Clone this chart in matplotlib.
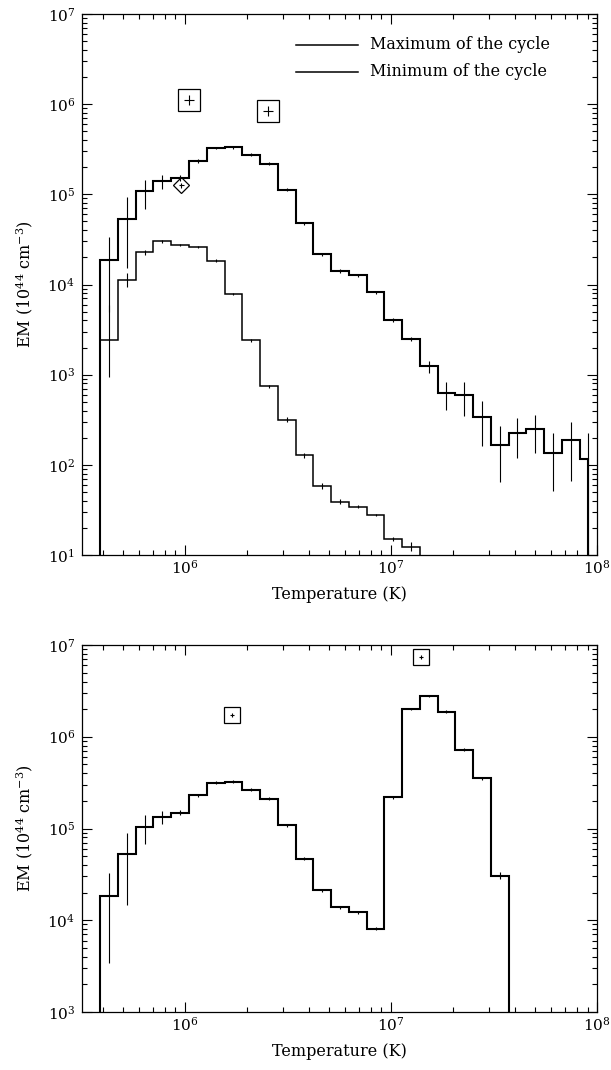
import numpy as np
import matplotlib
matplotlib.use("Agg")
import matplotlib.pyplot as plt
from matplotlib.ticker import LogLocator, NullFormatter, LogFormatterSciNotation

plt.rcParams["font.family"] = "DejaVu Serif"
plt.rcParams["mathtext.fontset"] = "dejavuserif"
plt.rcParams["mathtext.default"] = "regular"

# ---------------------------------------------------------------------------
# Temperature grid: log10(T / K) bin edges (last one closes the hottest bin)
logT_edges = [5.591, 5.677, 5.763, 5.849, 5.935, 6.022, 6.108, 6.194, 6.280,
              6.366, 6.452, 6.538, 6.624, 6.710, 6.796, 6.883, 6.969, 7.055,
              7.141, 7.227, 7.313, 7.399, 7.485, 7.571, 7.657, 7.744, 7.830,
              7.916, 7.957]

# Emission measure, maximum of the cycle (10^44 cm^-3) and its error range
em_max = [1.86e4, 5.3e4, 1.08e5, 1.39e5, 1.52e5, 2.32e5, 3.26e5, 3.31e5,
          2.75e5, 2.18e5, 1.13e5, 4.78e4, 2.17e4, 1.41e4, 1.26e4, 8.2e3,
          4.05e3, 2.5e3, 1.25e3, 627, 590, 340, 167, 223, 247, 135, 187, 117]
em_max_lo = [5.0e3, 1.53e4, 6.9e4, 1.15e5, 1.42e5, 2.2e5, 3.15e5, 3.2e5,
             2.65e5, 2.1e5, 1.09e5, 4.6e4, 2.08e4, 1.35e4, 1.21e4, 7.85e3,
             3.85e3, 2.35e3, 1.05e3, 410, 347, 161, 65, 120, 136, 51, 67, 1]
em_max_hi = [3.4e4, 9.3e4, 1.45e5, 1.65e5, 1.62e5, 2.45e5, 3.38e5, 3.43e5,
             2.86e5, 2.27e5, 1.17e5, 4.97e4, 2.26e4, 1.47e4, 1.31e4, 8.55e3,
             4.25e3, 2.65e3, 1.43e3, 822, 822, 507, 268, 332, 355, 223, 300, 227]

# Emission measure, minimum of the cycle
em_min = [2.44e3, 1.13e4, 2.28e4, 3.02e4, 2.72e4, 2.59e4, 1.84e4, 7.85e3,
          2.40e3, 743, 318, 127, 58.3, 39.2, 34.2, 27.9, 15.0, 12.4]
em_min_lo = [950, 9.5e3, 2.15e4, 2.9e4, 2.65e4, 2.52e4, 1.78e4, 7.6e3,
             2.32e3, 715, 300, 118, 54, 37, 33, 27, 14.2, 11.2]
em_min_hi = [6.0e3, 1.35e4, 2.42e4, 3.15e4, 2.8e4, 2.66e4, 1.9e4, 8.1e3,
             2.48e3, 770, 336, 137, 63, 41.5, 35.5, 28.8, 15.8, 13.8]

# Emission measure during the flare-like state (lower panel)
em_flare = [1.82e4, 5.26e4, 1.05e5, 1.35e5, 1.49e5, 2.29e5, 3.17e5, 3.22e5,
            2.64e5, 2.12e5, 1.09e5, 4.68e4, 2.11e4, 1.39e4, 1.22e4, 8.07e3,
            2.19e5, 2.01e6, 2.78e6, 1.88e6, 7.19e5, 3.53e5, 3.05e4]
em_flare_lo = [3.4e3, 1.45e4, 6.7e4, 1.12e5, 1.4e5, 2.2e5, 3.05e5, 3.1e5,
               2.54e5, 2.04e5, 1.05e5, 4.5e4, 2.03e4, 1.34e4, 1.17e4, 7.8e3,
               2.1e5, 1.95e6, 2.7e6, 1.82e6, 6.95e5, 3.4e5, 2.8e4]
em_flare_hi = [3.27e4, 8.9e4, 1.41e5, 1.57e5, 1.6e5, 2.38e5, 3.3e5, 3.35e5,
               2.75e5, 2.2e5, 1.13e5, 4.87e4, 2.2e4, 1.44e4, 1.27e4, 8.35e3,
               2.28e5, 2.08e6, 2.87e6, 1.95e6, 7.45e5, 3.66e5, 3.35e4]

# Single-temperature fits (T, T_lo, T_hi, EM, EM_lo, EM_hi)
sq_top_T = [1.047e6, 2.55e6]
sq_top_T_lo = [0.99e6, 2.41e6]
sq_top_T_hi = [1.107e6, 2.69e6]
sq_top_em = [1.12e6, 8.34e5]
sq_top_em_lo = [0.99e6, 7.35e5]
sq_top_em_hi = [1.27e6, 9.5e5]

dia_top_T = [9.64e5]
dia_top_T_lo = [9.38e5]
dia_top_T_hi = [9.91e5]
dia_top_em = [1.26e5]
dia_top_em_lo = [1.18e5]
dia_top_em_hi = [1.34e5]

sq_bot_T = [1.70e6, 1.40e7]
sq_bot_T_lo = [1.66e6, 1.37e7]
sq_bot_T_hi = [1.74e6, 1.43e7]
sq_bot_em = [1.73e6, 7.35e6]
sq_bot_em_lo = [1.65e6, 7.0e6]
sq_bot_em_hi = [1.82e6, 7.7e6]

legend_labels = ["Maximum of the cycle", "Minimum of the cycle"]
xlabel = "Temperature (K)"
ylabel = r"EM (10$^{44}$ cm$^{-3}$)"

# ---------------------------------------------------------------------------
T_edges = 10.0 ** np.array(logT_edges)
T_centres = np.sqrt(T_edges[:-1] * T_edges[1:])

W, H = 611, 1070
fig = plt.figure(figsize=(W / 100, H / 100), dpi=100)
ax1 = fig.add_axes([81.5 / W, 1 - 555 / H, 515.5 / W, 541 / H])
ax2 = fig.add_axes([81.5 / W, 1 - 1012 / H, 515.5 / W, 367 / H])

LW_MAX, LW_MIN, LW_ERR = 1.5, 1.1, 0.8
BASE = 1e-3  # below any y-limit: end steps drop to the frame


def histogram(ax, values, lo, hi, lw):
    n = len(values)
    ax.stairs(values, T_edges[:n + 1], baseline=BASE, color="k", lw=lw,
              fill=False)
    xerr_pos = T_centres[:n].copy()
    if n == len(T_centres):
        # the hottest bin is truncated; its error bar sits on the closing edge
        xerr_pos[-1] = T_edges[-1]
    ax.vlines(xerr_pos, lo, hi, color="k", lw=LW_ERR)


def fit_points(ax, T, Tlo, Thi, em, elo, ehi, marker, ms):
    T = np.array(T)
    em = np.array(em)
    ax.errorbar(T, em,
                xerr=[T - np.array(Tlo), np.array(Thi) - T],
                yerr=[em - np.array(elo), np.array(ehi) - em],
                fmt="none", ecolor="k", elinewidth=LW_ERR, capsize=0)
    ax.plot(T, em, marker, ls="none", mfc="none", mec="k", mew=0.9, ms=ms)


def style_axes(ax, ylim):
    ax.set_xscale("log")
    ax.set_yscale("log")
    ax.set_xlim(10 ** 5.5, 1e8)
    ax.set_ylim(*ylim)
    for a in (ax.xaxis, ax.yaxis):
        a.set_major_locator(LogLocator(base=10, numticks=20))
        a.set_minor_locator(LogLocator(base=10, subs=np.arange(2, 10),
                                       numticks=200))
        a.set_major_formatter(LogFormatterSciNotation())
        a.set_minor_formatter(NullFormatter())
    ax.tick_params(which="both", direction="in", top=True, right=True,
                   width=0.8, labelsize=11)
    ax.tick_params(which="major", length=7.2)
    ax.tick_params(which="minor", length=3.6)
    ax.tick_params(axis="x", which="major", pad=2.5)
    ax.tick_params(axis="y", which="major", pad=4.5)
    for s in ax.spines.values():
        s.set_linewidth(0.9)
    ax.set_xlabel(xlabel, fontsize=11.5, labelpad=7)
    ax.set_ylabel(ylabel, fontsize=11.5, labelpad=9)


# Upper panel: maximum and minimum of the cycle
histogram(ax1, em_max, em_max_lo, em_max_hi, LW_MAX)
histogram(ax1, em_min, em_min_lo, em_min_hi, LW_MIN)
fit_points(ax1, sq_top_T, sq_top_T_lo, sq_top_T_hi,
           sq_top_em, sq_top_em_lo, sq_top_em_hi, "s", 15.5)
fit_points(ax1, dia_top_T, dia_top_T_lo, dia_top_T_hi,
           dia_top_em, dia_top_em_lo, dia_top_em_hi, "D", 8.2)
style_axes(ax1, (10, 1e7))

# legend drawn as line samples with labels
for yk, lab in zip([0.9427, 0.8928], legend_labels):
    ax1.plot([0.416, 0.536], [yk, yk], color="k", lw=LW_MIN,
             transform=ax1.transAxes)
    ax1.text(0.560, yk, lab, transform=ax1.transAxes, fontsize=11.5,
             va="center", ha="left")

# Lower panel
histogram(ax2, em_flare, em_flare_lo, em_flare_hi, LW_MAX)
fit_points(ax2, sq_bot_T, sq_bot_T_lo, sq_bot_T_hi,
           sq_bot_em, sq_bot_em_lo, sq_bot_em_hi, "s", 11.9)
style_axes(ax2, (1e3, 1e7))

fig.savefig("out.png", dpi=100)
